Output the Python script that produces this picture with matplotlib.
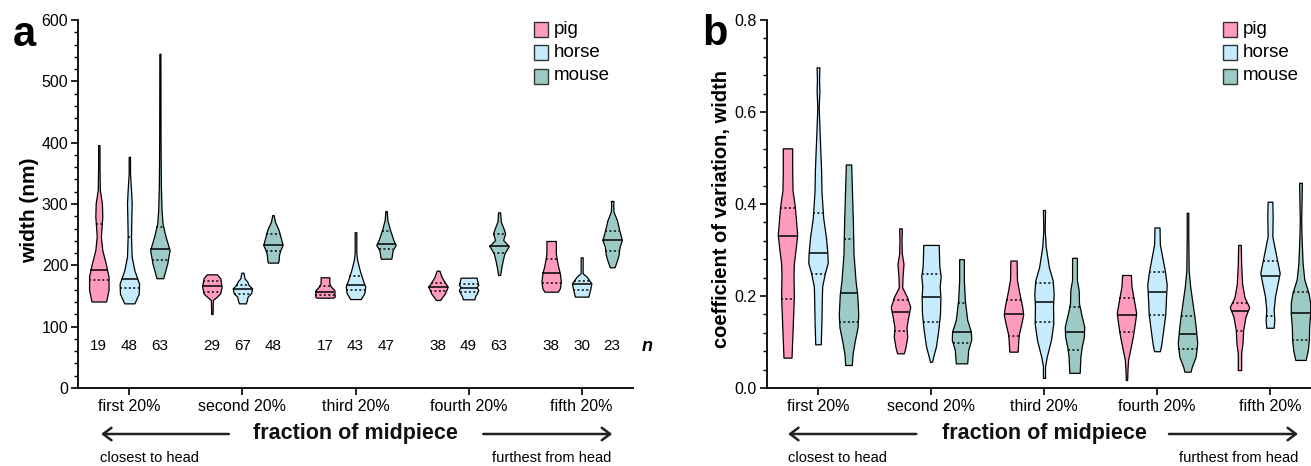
import numpy as np
import matplotlib
matplotlib.use("Agg")
import matplotlib.pyplot as plt
from matplotlib.patches import Rectangle
from matplotlib import transforms

plt.rcParams['font.family'] = ['Liberation Sans Narrow', 'Liberation Sans', 'DejaVu Sans']

W, H = 1311, 466

categories = ["first 20%", "second 20%", "third 20%", "fourth 20%", "fifth 20%"]
species = ["pig", "horse", "mouse"]
colors = {"pig": "#FF9BBE", "horse": "#C5EBFC", "mouse": "#9CCBC6"}

n_pig = [19, 29, 17, 38, 38]
n_horse = [48, 67, 43, 49, 30]
n_mouse = [63, 48, 47, 63, 23]

# ---------------- panel a: width (nm) ----------------
# violin outlines: value levels and relative widths
a_pig_levels = [
    [141, 160, 181.5, 203, 225, 247, 279, 301, 323, 360, 396],
    [120.6, 143.5, 148.9, 154.4, 165.2, 178.9, 185.3],
    [147.3, 148.9, 159.8, 165.2, 170.7, 180.5],
    [143.5, 154.4, 165.2, 171.7, 181.5, 191.3],
    [157, 162.5, 173.4, 187, 197.8, 208.7, 220, 239.7],
]
a_pig_widths = [
    [42, 56, 56, 40, 20, 12, 20, 18, 6, 4, 4],
    [4, 6, 30, 50, 58, 50, 30],
    [50, 58, 56, 36, 26, 26],
    [12, 40, 56, 40, 20, 8],
    [40, 52, 58, 52, 42, 34, 28, 28],
]
a_pig_median = [192, 166, 156, 165.2, 187]
a_pig_q1 = [176, 157, 151.6, 158.7, 171.7]
a_pig_q3 = [267, 175, 166, 171.7, 209.8]

a_horse_levels = [
    [138, 153.6, 170, 192, 214, 247, 279, 301, 323, 350, 377],
    [138, 143.5, 148.9, 154.4, 162.5, 167.9, 173.4, 178.9, 188],
    [145, 155, 165.6, 176, 193, 209, 220, 254],
    [144.6, 150, 156, 160, 164.5, 168, 173.7, 179.9],
    [149, 159.8, 170.6, 181.5, 187, 213],
]
a_horse_widths = [
    [30, 56, 58, 30, 14, 10, 12, 14, 10, 4, 4],
    [20, 26, 30, 50, 56, 36, 28, 12, 6],
    [26, 44, 48, 36, 20, 8, 4, 4],
    [26, 30, 40, 44, 36, 44, 40, 36],
    [40, 50, 58, 30, 6, 6],
]
a_horse_median = [177, 161, 168, 162.5, 170]
a_horse_q1 = [163.5, 154, 159, 157, 160]
a_horse_q3 = [247, 168, 182, 169.6, 175]

a_mouse_levels = [
    [179, 203, 225, 247, 268, 290, 330, 400, 545],
    [204.4, 208.7, 216.8, 225, 233.2, 241.3, 257.6, 271.2, 282],
    [210.8, 211.4, 225, 233.2, 241.3, 257.6, 274, 288.6],
    [184.2, 197.8, 208.7, 219.6, 231.5, 241.3, 252.2, 260.3, 271.2, 286.4],
    [196.8, 205.9, 216.8, 230.4, 241.3, 257.6, 273.9, 287.5, 298.4, 305],
]
a_mouse_widths = [
    [20, 44, 58, 34, 16, 10, 6, 4, 3],
    [30, 34, 36, 44, 58, 50, 34, 12, 4],
    [30, 32, 40, 58, 44, 24, 8, 4],
    [6, 14, 22, 32, 58, 24, 36, 26, 10, 6],
    [14, 26, 38, 44, 58, 42, 28, 8, 6, 8],
]
a_mouse_median = [226.6, 233.2, 234, 231.5, 241.3]
a_mouse_q1 = [208.7, 223.9, 226, 220.6, 223.9]
a_mouse_q3 = [262, 250.6, 256, 250.6, 256]

# ---------------- panel b: coefficient of variation ----------------
b_pig_levels = [
    [0.066, 0.141, 0.199, 0.242, 0.271, 0.300, 0.333, 0.394, 0.430, 0.47, 0.521],
    [0.0754, 0.089, 0.111, 0.132, 0.154, 0.176, 0.197, 0.219, 0.241, 0.270, 0.292, 0.321, 0.347],
    [0.079, 0.105, 0.119, 0.141, 0.160, 0.177, 0.206, 0.235, 0.277],
    [0.0174, 0.040, 0.062, 0.083, 0.112, 0.141, 0.163, 0.192, 0.221, 0.2457],
    [0.039, 0.075, 0.097, 0.126, 0.155, 0.176, 0.197, 0.226, 0.270, 0.311],
]
b_pig_widths = [
    [24, 32, 38, 36, 38, 48, 58, 44, 30, 28, 28],
    [20, 30, 40, 36, 46, 58, 40, 10, 12, 18, 8, 6, 8],
    [24, 28, 32, 46, 56, 50, 34, 20, 18],
    [4, 6, 10, 22, 38, 50, 58, 44, 30, 26],
    [10, 10, 18, 22, 36, 58, 30, 16, 10, 8],
]
b_pig_median = [0.330, 0.1645, 0.160, 0.158, 0.168]
b_pig_q1 = [0.193, 0.1246, 0.113, 0.121, 0.124]
b_pig_q3 = [0.391, 0.191, 0.191, 0.195, 0.184]

b_horse_levels = [
    [0.095, 0.148, 0.192, 0.221, 0.250, 0.272, 0.294, 0.327, 0.370, 0.428, 0.472, 0.530, 0.589, 0.610, 0.646, 0.670, 0.697],
    [0.057, 0.069, 0.091, 0.127, 0.163, 0.199, 0.221, 0.243, 0.264, 0.286, 0.311],
    [0.022, 0.047, 0.068, 0.104, 0.141, 0.177, 0.205, 0.234, 0.263, 0.307, 0.343, 0.387],
    [0.080, 0.095, 0.124, 0.160, 0.196, 0.225, 0.254, 0.283, 0.312, 0.349],
    [0.131, 0.148, 0.170, 0.199, 0.228, 0.250, 0.286, 0.330, 0.373, 0.405],
]
b_horse_widths = [
    [16, 20, 22, 24, 40, 56, 54, 46, 30, 20, 18, 12, 6, 4, 8, 6, 8],
    [6, 14, 30, 44, 54, 56, 52, 58, 50, 48, 46],
    [6, 6, 16, 40, 54, 52, 56, 50, 28, 10, 4, 6],
    [16, 24, 34, 46, 50, 54, 44, 30, 16, 14],
    [22, 26, 22, 30, 46, 58, 38, 14, 16, 14],
]
b_horse_median = [0.294, 0.197, 0.187, 0.209, 0.2435]
b_horse_q1 = [0.248, 0.143, 0.144, 0.1587, 0.157]
b_horse_q3 = [0.380, 0.247, 0.229, 0.2514, 0.276]

b_mouse_levels = [
    [0.050, 0.074, 0.103, 0.132, 0.161, 0.204, 0.233, 0.291, 0.364, 0.436, 0.486],
    [0.0536, 0.083, 0.105, 0.1225, 0.148, 0.191, 0.235, 0.280],
    [0.033, 0.068, 0.090, 0.111, 0.133, 0.162, 0.184, 0.213, 0.235, 0.283],
    [0.0355, 0.046, 0.068, 0.097, 0.126, 0.155, 0.184, 0.220, 0.256, 0.329, 0.381],
    [0.061, 0.082, 0.104, 0.133, 0.162, 0.185, 0.207, 0.236, 0.272, 0.330, 0.366, 0.402, 0.446],
]
b_mouse_widths = [
    [20, 24, 38, 54, 58, 52, 42, 30, 26, 20, 16],
    [34, 40, 58, 56, 34, 20, 14, 14],
    [30, 34, 42, 54, 56, 38, 26, 24, 14, 14],
    [16, 22, 42, 50, 44, 36, 26, 14, 6, 4, 4],
    [30, 42, 48, 50, 56, 56, 46, 22, 12, 6, 4, 6, 8],
]
b_mouse_median = [0.206, 0.1225, 0.1225, 0.1174, 0.162]
b_mouse_q1 = [0.143, 0.097, 0.083, 0.084, 0.104]
b_mouse_q3 = [0.324, 0.184, 0.177, 0.1565, 0.208]

OFFSET = 0.27
HALF = 0.086


def draw_violin(ax, xc, levels, widths, med, q1, q3, color):
    y = np.asarray(levels, float)
    w = np.asarray(widths, float)
    w = w / w.max() * HALF
    ax.fill_betweenx(y, xc - w, xc + w, facecolor=color, edgecolor="black",
                     linewidth=0.9, zorder=2)
    for val, ls, lw in ((med, "-", 1.1), (q1, (0, (1.3, 1.6)), 1.1), (q3, (0, (1.3, 1.6)), 1.1)):
        hw = np.interp(val, y, w)
        ax.plot([xc - hw, xc + hw], [val, val], color="black", linestyle=ls,
                linewidth=lw, zorder=3, solid_capstyle="butt", dash_capstyle="butt")


def style_axis(ax, ylim, major, minor, fmt):
    ax.set_ylim(*ylim)
    ax.spines["top"].set_visible(False)
    ax.spines["right"].set_visible(False)
    for s in ("left", "bottom"):
        ax.spines[s].set_linewidth(1.3)
    ax.set_yticks(np.arange(ylim[0], ylim[1] + major / 2, major))
    ax.set_yticks(np.arange(ylim[0], ylim[1] + minor / 2, minor), minor=True)
    ax.yaxis.set_major_formatter(plt.FormatStrFormatter(fmt))
    ax.set_xticks(range(len(categories)))
    ax.set_xticklabels(categories)
    ax.tick_params(axis="both", which="major", direction="out", length=5, width=1.2,
                   labelsize=11.5, pad=3)
    ax.tick_params(axis="y", which="major", pad=2)
    ax.tick_params(axis="y", which="minor", direction="out", length=3, width=1.0)
    ax.tick_params(axis="x", which="minor", bottom=False)


fig = plt.figure(figsize=(W / 100, H / 100), dpi=100)
axA = fig.add_axes([78 / W, 1 - 388 / H, (633 - 78) / W, 368 / H])
axB = fig.add_axes([766.7 / W, 1 - 388 / H, (1311 - 766.7) / W, 368 / H])
axA.set_xlim(-0.454, 4.454)
axB.set_xlim(-0.454, 4.363)

panels = [
    (axA, {"pig": (a_pig_levels, a_pig_widths, a_pig_median, a_pig_q1, a_pig_q3),
           "horse": (a_horse_levels, a_horse_widths, a_horse_median, a_horse_q1, a_horse_q3),
           "mouse": (a_mouse_levels, a_mouse_widths, a_mouse_median, a_mouse_q1, a_mouse_q3)}),
    (axB, {"pig": (b_pig_levels, b_pig_widths, b_pig_median, b_pig_q1, b_pig_q3),
           "horse": (b_horse_levels, b_horse_widths, b_horse_median, b_horse_q1, b_horse_q3),
           "mouse": (b_mouse_levels, b_mouse_widths, b_mouse_median, b_mouse_q1, b_mouse_q3)}),
]

for ax, data in panels:
    for si, sp in enumerate(species):
        lv, wd, md, q1, q3 = data[sp]
        for g in range(len(categories)):
            draw_violin(ax, g + (si - 1) * OFFSET, lv[g], wd[g], md[g], q1[g], q3[g], colors[sp])

style_axis(axA, (0, 600), 100, 20, "%d")
style_axis(axB, (0, 0.8), 0.2, 0.04, "%.1f")

# n labels
for si, ns in enumerate([n_pig, n_horse, n_mouse]):
    for g, n in enumerate(ns):
        axA.text(g + (si - 1) * OFFSET, 68, str(n), ha="center", va="center", fontsize=11)
axA.text(4.58, 68, "n", ha="center", va="center", fontsize=13, fontstyle="italic",
         fontweight="bold", clip_on=False)

# y labels
fig.text(30 / W, 1 - 210 / H, "width (nm)", rotation=90, ha="center", va="center",
         fontsize=15, fontweight="bold", family=["Liberation Sans", "DejaVu Sans"])
fig.text(721 / W, 1 - 209 / H, "coefficient of variation, width", rotation=90, ha="center",
         va="center", fontsize=14.5, fontweight="bold", family=["Liberation Sans", "DejaVu Sans"])

# panel letters
fig.text(13 / W, 1 - 46 / H, "a", fontsize=30, fontweight="bold", ha="left", va="baseline",
         family=["Liberation Sans", "DejaVu Sans"])
fig.text(702 / W, 1 - 45 / H, "b", fontsize=30, fontweight="bold", ha="left", va="baseline",
         family=["Liberation Sans", "DejaVu Sans"])

# bottom annotation: fraction of midpiece with arrows
ann = [
    (axA, (-0.25, 0.88), (3.13, 4.27), 2.0, -0.26, 4.26),
    (axB, (-0.265, 0.87), (3.106, 4.248), 2.0, -0.265, 4.248),
]
for ax, la, ra, cx, lx, rx in ann:
    tr = transforms.blended_transform_factory(ax.transData, fig.transFigure)
    yarr = 1 - 434 / H
    ax.annotate("", xy=(la[0], yarr), xytext=(la[1], yarr), xycoords=tr, textcoords=tr,
                arrowprops=dict(arrowstyle="->,head_length=0.6,head_width=0.45",
                                color="#222222", lw=1.8, shrinkA=0, shrinkB=0),
                annotation_clip=False)
    ax.annotate("", xy=(ra[1], yarr), xytext=(ra[0], yarr), xycoords=tr, textcoords=tr,
                arrowprops=dict(arrowstyle="->,head_length=0.6,head_width=0.45",
                                color="#222222", lw=1.8, shrinkA=0, shrinkB=0),
                annotation_clip=False)
    ax.text(cx, 1 - 433 / H, "fraction of midpiece", transform=tr, ha="center", va="center",
            fontsize=15.5, family=["Liberation Sans", "DejaVu Sans"], fontweight="bold",
            color="#111111")
    ax.text(lx, 1 - 458 / H, "closest to head", transform=tr, ha="left", va="center",
            fontsize=10.5, family=["Liberation Sans", "DejaVu Sans"])
    ax.text(rx, 1 - 458 / H, "furthest from head", transform=tr, ha="right", va="center",
            fontsize=10.5, family=["Liberation Sans", "DejaVu Sans"])

# legends (manual)
for xsq in (534, 1223):
    for i, sp in enumerate(species):
        yc = 29 + i * 23.5
        fig.add_artist(Rectangle((xsq / W, 1 - (yc + 7.5) / H), 13.5 / W, 15 / H,
                                 transform=fig.transFigure, facecolor=colors[sp],
                                 edgecolor="#333333", linewidth=1.0))
        fig.text((xsq + 20) / W, 1 - yc / H, sp, ha="left", va="center", fontsize=13.5)

fig.savefig("out.png", dpi=100)
